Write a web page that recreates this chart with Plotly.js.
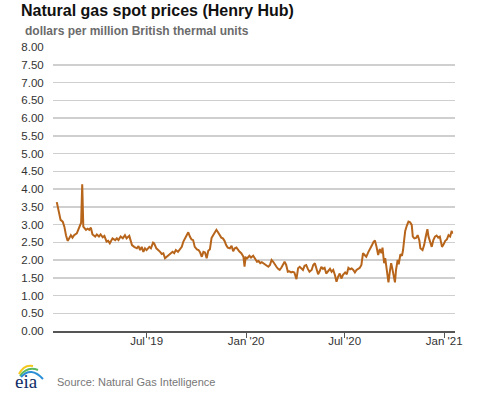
<!DOCTYPE html>
<html>
<head>
<meta charset="utf-8">
<script src="https://cdn.plot.ly/plotly-3.0.1.min.js"></script>
<style>
  html, body { margin: 0; padding: 0; background: #fff; }
  #chart { width: 477px; height: 393px; }
</style>
</head>
<body>
<div id="chart"></div>
<script>
// Henry Hub natural gas spot prices (dollars per MMBtu)
const dates = [
  '2019-01-16','2019-01-18','2019-01-20','2019-01-23','2019-01-27','2019-01-30','2019-02-02','2019-02-05',
  '2019-02-08','2019-02-11','2019-02-14','2019-02-17','2019-02-22','2019-02-25','2019-02-28','2019-03-02',
  '2019-03-04','2019-03-05','2019-03-06','2019-03-11','2019-03-14','2019-03-17','2019-03-20','2019-03-23',
  '2019-03-28','2019-03-31','2019-04-04','2019-04-07','2019-04-11','2019-04-14','2019-04-18','2019-04-21',
  '2019-04-24','2019-04-29','2019-05-04','2019-05-07','2019-05-10','2019-05-14','2019-05-18','2019-05-22',
  '2019-05-25','2019-05-30','2019-06-02','2019-06-04','2019-06-08','2019-06-13','2019-06-16','2019-06-19',
  '2019-06-22','2019-06-25','2019-06-28','2019-07-01','2019-07-06','2019-07-09','2019-07-13','2019-07-15',
  '2019-07-19','2019-07-23','2019-07-26','2019-07-29','2019-08-01','2019-08-04','2019-08-07','2019-08-12',
  '2019-08-15','2019-08-18','2019-08-21','2019-08-24','2019-08-28','2019-09-01','2019-09-04','2019-09-07',
  '2019-09-10','2019-09-13','2019-09-16','2019-09-19','2019-09-22','2019-09-25','2019-09-28','2019-10-02',
  '2019-10-05','2019-10-08','2019-10-11','2019-10-14','2019-10-17','2019-10-20','2019-10-23','2019-10-26',
  '2019-10-29','2019-11-01','2019-11-04','2019-11-07','2019-11-10','2019-11-13','2019-11-16','2019-11-19',
  '2019-11-22','2019-11-25','2019-11-28','2019-12-02','2019-12-05','2019-12-08','2019-12-11','2019-12-14',
  '2019-12-17','2019-12-20','2019-12-23','2019-12-27','2019-12-29','2019-12-31','2020-01-03','2020-01-07',
  '2020-01-10','2020-01-14','2020-01-17','2020-01-21','2020-01-24','2020-01-27','2020-01-30','2020-02-02',
  '2020-02-05','2020-02-08','2020-02-11','2020-02-14','2020-02-17','2020-02-20','2020-02-23','2020-02-26',
  '2020-02-29','2020-03-03','2020-03-06','2020-03-09','2020-03-12','2020-03-15','2020-03-18','2020-03-21',
  '2020-03-24','2020-03-27','2020-03-30','2020-04-03','2020-04-06','2020-04-09','2020-04-12','2020-04-15',
  '2020-04-18','2020-04-21','2020-04-24','2020-04-27','2020-05-01','2020-05-04','2020-05-07','2020-05-10',
  '2020-05-13','2020-05-16','2020-05-19','2020-05-22','2020-05-25','2020-05-28','2020-06-01','2020-06-04',
  '2020-06-07','2020-06-10','2020-06-13','2020-06-16','2020-06-19','2020-06-22','2020-06-25','2020-06-28',
  '2020-07-02','2020-07-05','2020-07-08','2020-07-11','2020-07-14','2020-07-17','2020-07-20','2020-07-23',
  '2020-07-26','2020-07-29','2020-08-01','2020-08-04','2020-08-07','2020-08-10','2020-08-14','2020-08-17',
  '2020-08-20','2020-08-23','2020-08-26','2020-08-29','2020-09-01','2020-09-04','2020-09-07','2020-09-09',
  '2020-09-12','2020-09-14','2020-09-17','2020-09-20','2020-09-23','2020-09-25','2020-09-27','2020-09-29',
  '2020-10-02','2020-10-04','2020-10-07','2020-10-09','2020-10-12','2020-10-15','2020-10-17','2020-10-19',
  '2020-10-21','2020-10-24','2020-10-27','2020-10-30','2020-11-02','2020-11-04','2020-11-07','2020-11-10',
  '2020-11-13','2020-11-16','2020-11-18','2020-11-22','2020-11-25','2020-11-28','2020-12-01','2020-12-03',
  '2020-12-06','2020-12-09','2020-12-12','2020-12-15','2020-12-18','2020-12-21','2020-12-24','2020-12-28',
  '2020-12-31','2021-01-03','2021-01-06','2021-01-09','2021-01-12','2021-01-15','2021-01-16'
];
const prices = [
  3.63,3.47,3.29,3.13,3.08,2.94,2.70,2.54,
  2.61,2.70,2.63,2.70,2.75,2.85,2.94,3.05,
  4.13,3.25,2.94,2.85,2.88,2.85,2.91,2.72,
  2.66,2.72,2.66,2.72,2.64,2.68,2.52,2.54,
  2.47,2.61,2.56,2.61,2.56,2.66,2.61,2.70,
  2.61,2.68,2.47,2.42,2.37,2.33,2.39,2.28,
  2.37,2.23,2.33,2.28,2.37,2.33,2.49,2.47,
  2.33,2.28,2.23,2.17,2.19,2.05,2.09,2.14,
  2.17,2.23,2.19,2.28,2.23,2.33,2.37,2.52,
  2.61,2.68,2.78,2.66,2.58,2.56,2.37,2.30,
  2.28,2.21,2.09,2.23,2.21,2.05,2.26,2.30,
  2.62,2.70,2.80,2.85,2.78,2.70,2.63,2.61,
  2.54,2.42,2.35,2.33,2.40,2.25,2.33,2.35,
  2.28,2.23,2.19,2.09,1.81,2.07,2.05,2.12,
  2.07,2.12,2.05,1.95,1.97,1.91,1.94,1.91,
  1.88,1.86,1.81,1.86,2.00,1.95,1.86,1.81,
  1.75,1.72,1.78,1.86,1.95,1.86,1.67,1.68,
  1.65,1.67,1.65,1.46,1.77,1.81,1.77,1.72,
  1.84,1.86,1.75,1.67,1.72,1.86,1.91,1.72,
  1.60,1.69,1.81,1.75,1.78,1.62,1.69,1.75,
  1.67,1.72,1.58,1.39,1.53,1.62,1.48,1.58,
  1.65,1.60,1.78,1.74,1.76,1.72,1.65,1.72,
  1.75,1.78,1.86,2.19,2.14,2.09,2.23,2.34,
  2.40,2.50,2.55,2.37,2.14,2.31,2.19,2.35,
  1.91,2.05,1.72,1.37,1.72,1.91,1.77,1.58,
  1.37,1.72,2.00,1.88,2.16,2.12,2.28,2.56,
  2.82,2.97,3.08,3.06,2.99,2.66,2.61,2.62,
  2.70,2.56,2.33,2.28,2.42,2.66,2.87,2.66,
  2.47,2.37,2.56,2.66,2.69,2.63,2.66,2.37,
  2.44,2.54,2.58,2.70,2.66,2.82,2.74
];
const tickDates = ['2019-07-01','2020-01-01','2020-07-01','2021-01-01'];
const tickLabels = ["Jul '19","Jan '20","Jul '20","Jan '21"];
const yTicks = [0,0.5,1,1.5,2,2.5,3,3.5,4,4.5,5,5.5,6,6.5,7,7.5,8];

const FONT = 'Liberation Sans, Arial, sans-serif';

const trace = {
  type: 'scatter',
  mode: 'lines',
  x: dates,
  y: prices,
  line: { color: '#b8651c', width: 2 },
  hoverinfo: 'x+y'
};

const layout = {
  width: 477,
  height: 393,
  margin: { l: 53, r: 22, t: 47, b: 62 },
  paper_bgcolor: '#fff',
  plot_bgcolor: '#fff',
  showlegend: false,
  font: { family: FONT, color: '#333', size: 11.5 },
  title: {
    text: '<b>Natural gas spot prices (Henry Hub)</b>',
    font: { family: FONT, size: 16, color: '#111' },
    xref: 'container', yref: 'container',
    x: 21 / 477, xanchor: 'left',
    y: 1 - 10 / 393, yanchor: 'middle'
  },
  xaxis: {
    type: 'date',
    range: ['2019-01-09', '2021-01-21'],
    tickmode: 'array',
    tickvals: tickDates,
    ticktext: tickLabels,
    showgrid: false,
    zeroline: false,
    showline: true,
    linecolor: '#555',
    linewidth: 2,
    ticks: 'outside',
    ticklen: 5,
    tickwidth: 1,
    tickcolor: '#555',
    ticklabelstandoff: -7,
    tickfont: { family: FONT, size: 11.5, color: '#333' },
    fixedrange: true
  },
  yaxis: {
    range: [0, 8],
    tickmode: 'array',
    tickvals: yTicks,
    tickformat: '.2f',
    showgrid: true,
    gridcolor: '#cfcfcf',
    gridwidth: 1.5,
    zeroline: false,
    showline: false,
    ticks: 'outside',
    ticklen: 6,
    tickcolor: 'rgba(0,0,0,0)',
    tickfont: { family: FONT, size: 11.5, color: '#333' },
    fixedrange: true
  },
  annotations: [
    {
      text: '<b>dollars per million British thermal units</b>',
      xref: 'paper', yref: 'paper',
      x: (23 - 53) / 402, xanchor: 'left',
      y: (331 - 31) / 284, yanchor: 'middle',
      showarrow: false,
      font: { family: FONT, size: 12, color: '#6b6b6b' }
    },
    {
      text: 'Source: Natural Gas Intelligence',
      xref: 'paper', yref: 'paper',
      x: (55 - 53) / 402, xanchor: 'left',
      y: (331 - 382) / 284, yanchor: 'middle',
      showarrow: false,
      font: { family: FONT, size: 11, color: '#777' }
    },
    {
      text: 'eia',
      xref: 'paper', yref: 'paper',
      x: (26 - 53) / 402, xanchor: 'center',
      y: (331 - 381) / 284, yanchor: 'middle',
      showarrow: false,
      font: { family: 'Liberation Serif, DejaVu Serif, serif', size: 19, color: '#0f2d66' }
    }
  ],
  shapes: [
    { type: 'path', xref: 'paper', yref: 'paper',
      path: 'M -0.0846 -0.1514 Q -0.0721 -0.1162 -0.0498 -0.1232',
      line: { color: '#f2c81f', width: 2 } },
    { type: 'path', xref: 'paper', yref: 'paper',
      path: 'M -0.0821 -0.1585 Q -0.0647 -0.1232 -0.0373 -0.1373',
      line: { color: '#5cb85c', width: 2 } },
    { type: 'path', xref: 'paper', yref: 'paper',
      path: 'M -0.0796 -0.1620 Q -0.0547 -0.1232 -0.0249 -0.1690',
      line: { color: '#2b8fd6', width: 2 } }
  ]
};

Plotly.newPlot('chart', [trace], layout, { displayModeBar: false, staticPlot: true });
</script>
</body>
</html>
